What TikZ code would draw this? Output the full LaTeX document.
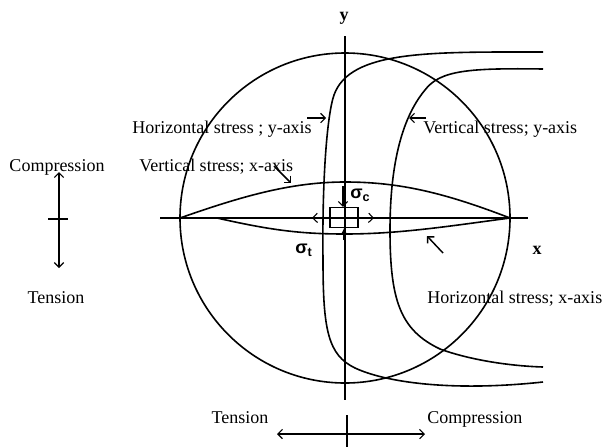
\documentclass[tikz,border=0pt]{standalone}
\usepackage{fontspec}
\setmainfont{Liberation Serif}
\newfontfamily\sigfont{Liberation Sans}
\usetikzlibrary{arrows.meta,positioning,calc}

\tikzset{
  curve/.style={line width=1.2pt},
  axis/.style={line width=1.4pt},
  pointer/.style={-{Straight Barb[length=3.5pt,width=7pt]},line width=0.8pt},
  twoway/.style={{Straight Barb[length=3.5pt,width=7pt]}-{Straight Barb[length=3.5pt,width=7pt]},line width=0.8pt},
  lbl/.style={font=\fontsize{13.5}{16}\selectfont,inner sep=0pt},
  axlbl/.style={font=\bfseries\fontsize{13.5}{16}\selectfont,inner sep=0pt},
  sig/.style={font=\sigfont\bfseries\fontsize{13.5}{16}\selectfont,inner sep=0pt},
  elembox/.style={draw,line width=0.8pt,minimum width=21pt,minimum height=15pt,inner sep=0pt}
}

\begin{document}
\begin{tikzpicture}[x=0.75pt,y=-0.75pt]
\useasboundingbox (0,0) rectangle (606,447);

% circle and axes
\coordinate (O) at (345,218);
\draw[curve] (O) circle (165);
\draw[axis] (160,218) -- (528,218);
\draw[axis] (345,36) -- (345,400);
\node[axlbl] (ylbl) at (344,18) {y};
\node[axlbl] (xlbl) at (537,250) {x};

% vertical stress along x-axis
\draw[curve] (180,218) .. controls (240,197) and (290,182) .. (345,182)
  .. controls (400,182) and (445,193) .. (510,218);
\draw[curve] (180,218) -- (217,218) .. controls (270,230) and (300,234) .. (345,234)
  .. controls (400,234) and (450,226) .. (510,218);

% horizontal stress along y-axis
\draw[curve] (543,52) .. controls (430,52) and (350,50) .. (334,95)
  .. controls (327,115) and (322,180) .. (323,260)
  .. controls (323,330) and (328,355) .. (355,368)
  .. controls (385,382) and (450,392) .. (543,382);

% vertical stress along y-axis
\draw[curve] (543,69) .. controls (470,68) and (440,70) .. (425,90)
  .. controls (400,120) and (390,170) .. (390,230)
  .. controls (390,300) and (400,330) .. (440,349)
  .. controls (470,360) and (510,366) .. (543,367);

% element at the centre
\node[elembox] (elem) at (344,217.5) {};
\coordinate (sl) at (312,218);
\coordinate (sr) at (374,218);
\coordinate (sc) at (343,186);
\coordinate (st) at (344,240);
\draw[pointer] (elem.west) -- (sl);
\draw[pointer] (elem.east) -- (sr);
\draw[pointer] (sc) -- (sc |- elem.north);
\draw[-{Latex[length=4pt,width=4pt]},line width=1.6pt] (st) -- (st |- elem.south);
\node[sig,anchor=west] (sigc) at (350,195) {σ\textsubscript{c}};
\node[sig] (sigt) at (304,250) {σ\textsubscript{t}};

% labels
\node[lbl,anchor=base west] (hylbl) at (132,133) {Horizontal stress ; y-axis};
\coordinate (hytail) at (307,118);
\coordinate (hytip) at (326,118);
\draw[pointer] (hytail) -- (hytip);

\node[lbl,anchor=base west] (vylbl) at (423,133) {Vertical stress; y-axis};
\coordinate (vytail) at (426,118);
\coordinate (vytip) at (409,118);
\draw[pointer] (vytail) -- (vytip);

\node[lbl,anchor=base west] (vxlbl) at (139,171) {Vertical stress; x-axis};
\coordinate (vxtail) at (274,166);
\coordinate (vxtip) at (291,183);
\draw[pointer,line width=1.1pt] (vxtail) -- (vxtip);

\node[lbl,anchor=base west] (hxlbl) at (427,303) {Horizontal stress; x-axis};
\coordinate (hxtail) at (443,253);
\coordinate (hxtip) at (427,236);
\draw[pointer,line width=1.1pt] (hxtail) -- (hxtip);

% sign convention, left
\node[lbl,anchor=base] (compl) at (57,171) {Compression};
\node[lbl,anchor=base] (tensl) at (56,303) {Tension};
\coordinate (lt) at (59,172);
\coordinate (lb) at (59,268);
\draw[twoway] (lt) -- (lb);
\draw[line width=0.8pt] (48,219) -- (68,219);

% sign convention, bottom
\node[lbl,anchor=base] (tensb) at (240,423) {Tension};
\node[lbl,anchor=base west] (compb) at (427,423) {Compression};
\coordinate (bl) at (277,434);
\coordinate (br) at (425,434);
\draw[twoway] (bl) -- (br);
\draw[line width=0.8pt] (347,415) -- (347,447);
\end{tikzpicture}
\end{document}
